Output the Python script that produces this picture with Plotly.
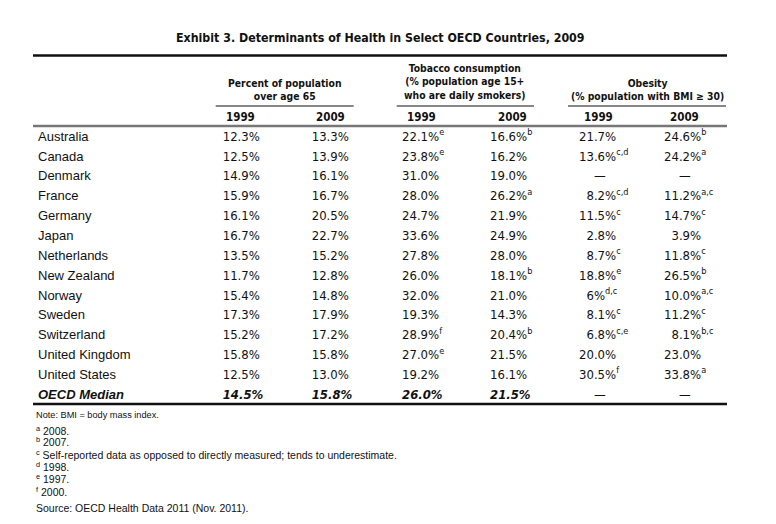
import plotly.graph_objects as go

# ---------------- data ----------------
countries = ["Australia", "Canada", "Denmark", "France", "Germany", "Japan",
             "Netherlands", "New Zealand", "Norway", "Sweden", "Switzerland",
             "United Kingdom", "United States", "OECD Median"]

pop65_1999 = [12.3, 12.5, 14.9, 15.9, 16.1, 16.7, 13.5, 11.7, 15.4, 17.3, 15.2, 15.8, 12.5, 14.5]
pop65_2009 = [13.3, 13.9, 16.1, 16.7, 20.5, 22.7, 15.2, 12.8, 14.8, 17.9, 17.2, 15.8, 13.0, 15.8]

tob_1999 = [22.1, 23.8, 31.0, 28.0, 24.7, 33.6, 27.8, 26.0, 32.0, 19.3, 28.9, 27.0, 19.2, 26.0]
tob_1999_notes = ["e", "e", "", "", "", "", "", "", "", "", "f", "e", "", ""]
tob_2009 = [16.6, 16.2, 19.0, 26.2, 21.9, 24.9, 28.0, 18.1, 21.0, 14.3, 20.4, 21.5, 16.1, 21.5]
tob_2009_notes = ["b", "", "", "a", "", "", "", "b", "", "", "b", "", "", ""]

obes_1999 = [21.7, 13.6, None, 8.2, 11.5, 2.8, 8.7, 18.8, 6, 8.1, 6.8, 20.0, 30.5, None]
obes_1999_notes = ["", "c,d", "", "c,d", "c", "", "c", "e", "d,c", "c", "c,e", "", "f", ""]
obes_2009 = [24.6, 24.2, None, 11.2, 14.7, 3.9, 11.8, 26.5, 10.0, 11.2, 8.1, 23.0, 33.8, None]
obes_2009_notes = ["b", "a", "", "a,c", "c", "", "c", "b", "a,c", "c", "b,c", "", "a", ""]

years = ["1999", "2009"]
group_headers = ["Percent of population<br>over age 65",
                 "Tobacco consumption<br>(% population age 15+<br>who are daily smokers)",
                 "Obesity<br>(% population with BMI ≥ 30)"]
title = "Exhibit 3. Determinants of Health in Select OECD Countries, 2009"
note_line = "Note: BMI = body mass index."
note_keys = ["a", "b", "c", "d", "e", "f"]
note_texts = ["2008.", "2007.",
              "Self-reported data as opposed to directly measured; tends to underestimate.",
              "1998.", "1997.", "2000."]
source_line = "Source: OECD Health Data 2011 (Nov. 2011)."

# ---------------- styling / layout ----------------
W, H = 776, 524
COND = "'DejaVu Sans Condensed', 'Liberation Sans Narrow', sans-serif"
SANS = "'Liberation Sans', Arial, sans-serif"
FIG = "\u2007"  # figure space (digit width) for decimal alignment
INK = "#111111"
summary_idx = len(countries) - 1

row0_px, row_step_px = 137.5, 19.85          # pixel centre of first row, row pitch
col_text_x = [38, 222.7, 311.7, 402, 490, 579, 664]   # left edge of each column's text
year_centers = [240, 330, 422, 512, 598, 684]
year_y = 116.7
group_centers = [(284.7, 89.5), (465, 81.5), (647, 89.5)]
foot_x = 34
note_y = 415
footnote_y = [430.5, 441, 454.5, 466.5, 478.5, 491.5]
source_y = 508


def px(x):
    return x / W


def py(y):
    return 1 - y / H


def fmt(vals, notes=None):
    out = []
    for i, v in enumerate(vals):
        if v is None:
            s = FIG * 2 + "—"
        else:
            s = f"{v}%" if isinstance(v, int) else f"{v:.1f}%"
            if abs(v) < 10:
                s = FIG + s
            if notes and notes[i]:
                s += f"<sup>{notes[i]}</sup>"
            if i == summary_idx:
                s = f"<b><i>{s}</i></b>"
        out.append(s)
    return out


country_text = [f"<b><i>{c}</i></b>" if i == summary_idx else c for i, c in enumerate(countries)]
columns = [
    (country_text, SANS, 13),
    (fmt(pop65_1999), COND, 13),
    (fmt(pop65_2009), COND, 13),
    (fmt(tob_1999, tob_1999_notes), COND, 13),
    (fmt(tob_2009, tob_2009_notes), COND, 13),
    (fmt(obes_1999, obes_1999_notes), COND, 13),
    (fmt(obes_2009, obes_2009_notes), COND, 13),
]

fig = go.Figure()
for (texts, fam, size), cx in zip(columns, col_text_x):
    fig.add_trace(go.Scatter(
        x=[cx] * len(countries), y=countries, mode="text", text=texts,
        textposition="middle right", hoverinfo="skip",
        textfont=dict(family=fam, size=size, color=INK)))

# y axis: categorical rows mapped so that row i sits at row0_px + i*row_step_px
top_val = -row0_px / row_step_px
bot_val = (H - row0_px) / row_step_px
fig.update_yaxes(type="category", categoryorder="array", categoryarray=countries,
                 range=[bot_val, top_val], visible=False, fixedrange=True)
fig.update_xaxes(range=[0, W], visible=False, fixedrange=True)

# ---------------- title, headers, notes ----------------
ann = [dict(text=f"<b>{title}</b>", x=px(380), y=py(38), xref="paper", yref="paper",
            xanchor="center", yanchor="middle", showarrow=False,
            font=dict(family=COND, size=12.3, color=INK))]
for g, (cx, cy) in zip(group_headers, group_centers):
    ann.append(dict(text=f"<b>{g}</b>", x=px(cx), y=py(cy), xref="paper", yref="paper",
                    xanchor="center", yanchor="middle", showarrow=False,
                    font=dict(family=COND, size=10.3, color=INK)))
for i, cx in enumerate(year_centers):
    ann.append(dict(text=f"<b>{years[i % 2]}</b>", x=px(cx), y=py(year_y), xref="paper", yref="paper",
                    xanchor="center", yanchor="middle", showarrow=False,
                    font=dict(family=COND, size=11.5, color=INK)))

ann.append(dict(text=note_line, x=px(foot_x), y=py(note_y), xref="paper", yref="paper",
                xanchor="left", yanchor="middle", showarrow=False,
                font=dict(family=SANS, size=9.2, color=INK)))
for k, t, fy in zip(note_keys, note_texts, footnote_y):
    ann.append(dict(text=f"<sup>{k}</sup> {t}", x=px(foot_x), y=py(fy), xref="paper", yref="paper",
                    xanchor="left", yanchor="middle", showarrow=False,
                    font=dict(family=SANS, size=10.5, color=INK)))
ann.append(dict(text=source_line, x=px(foot_x), y=py(source_y), xref="paper", yref="paper",
                xanchor="left", yanchor="middle", showarrow=False,
                font=dict(family=SANS, size=10.5, color=INK)))

# ---------------- rules ----------------
shapes = []
for y, w, c in [(55.5, 2.5, INK), (126, 2.5, "#777777"), (404, 2.5, INK)]:
    shapes.append(dict(type="line", xref="paper", yref="paper", x0=px(33), x1=px(727),
                       y0=py(y), y1=py(y), line=dict(color=c, width=w)))
for x0, x1 in [(215.7, 353.7), (396.7, 534), (568, 726)]:
    shapes.append(dict(type="line", xref="paper", yref="paper", x0=px(x0), x1=px(x1),
                       y0=py(106), y1=py(106), line=dict(color=INK, width=1.2)))

fig.update_layout(width=W, height=H, margin=dict(l=0, r=0, t=0, b=0),
                  paper_bgcolor="white", plot_bgcolor="white",
                  annotations=ann, shapes=shapes, showlegend=False)

fig.write_html("out.html", config={"displayModeBar": False},
               post_script="document.body.style.margin='0';document.body.style.overflow='hidden';")
